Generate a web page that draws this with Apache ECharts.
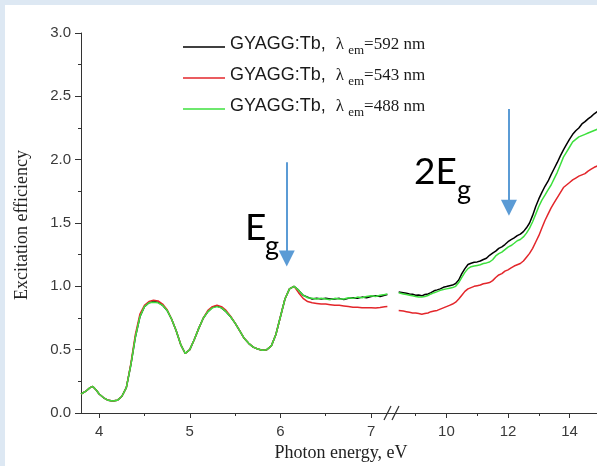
<!DOCTYPE html>
<html>
<head>
<meta charset="utf-8">
<script src="https://cdn.jsdelivr.net/npm/echarts@6/dist/echarts.min.js"></script>
<style>
html, body { margin: 0; padding: 0; }
#chart { width: 597px; height: 466px; }
</style>
</head>
<body>
<div id="chart"></div>
<script>
// left piece of the broken energy axis, eV
const energyLeft = [3.8, 3.85, 3.9, 3.93, 3.97,
  4.0, 4.05, 4.1, 4.15, 4.2, 4.25, 4.3, 4.35, 4.4, 4.45, 4.5, 4.55, 4.6, 4.65, 4.7, 4.75, 4.8, 4.85, 4.9, 4.95,
  5.0, 5.05, 5.1, 5.15, 5.2, 5.25, 5.3, 5.35, 5.4, 5.45, 5.5, 5.55, 5.6, 5.65, 5.7, 5.75, 5.8, 5.85, 5.9, 5.95,
  6.0, 6.05, 6.1, 6.15, 6.2, 6.25, 6.3, 6.35, 6.4, 6.45, 6.5, 6.55, 6.6, 6.65, 6.7, 6.75, 6.8, 6.85, 6.9, 6.95,
  7.0, 7.05, 7.1, 7.15, 7.18];
const black592Left = [0.15, 0.17, 0.2, 0.21, 0.18,
  0.15, 0.12, 0.10, 0.095, 0.10, 0.13, 0.2, 0.38, 0.6, 0.76, 0.84, 0.87, 0.88, 0.875, 0.85, 0.81, 0.74, 0.65, 0.54, 0.47,
  0.5, 0.58, 0.67, 0.75, 0.8, 0.835, 0.845, 0.83, 0.8, 0.76, 0.71, 0.65, 0.59, 0.55, 0.52, 0.505, 0.495, 0.5, 0.53, 0.62,
  0.76, 0.9, 0.98, 1.0, 0.97, 0.93, 0.915, 0.9, 0.905, 0.9, 0.905, 0.9, 0.9, 0.905, 0.895, 0.905, 0.91, 0.905, 0.915, 0.91,
  0.92, 0.925, 0.92, 0.93, 0.935];
const red543Left = [0.15, 0.17, 0.2, 0.21, 0.18,
  0.15, 0.12, 0.10, 0.095, 0.10, 0.13, 0.2, 0.39, 0.62, 0.78, 0.85, 0.88, 0.89, 0.885, 0.86, 0.815, 0.74, 0.65, 0.54, 0.47,
  0.5, 0.58, 0.67, 0.75, 0.81, 0.84, 0.85, 0.84, 0.81, 0.765, 0.71, 0.65, 0.59, 0.55, 0.52, 0.505, 0.495, 0.5, 0.53, 0.62,
  0.76, 0.9, 0.98, 1.0, 0.95, 0.905, 0.88, 0.87, 0.865, 0.86, 0.86, 0.855, 0.85, 0.85, 0.845, 0.84, 0.835, 0.835, 0.83, 0.83,
  0.83, 0.828, 0.832, 0.838, 0.84];
const green488Left = [0.15, 0.17, 0.2, 0.21, 0.18,
  0.15, 0.12, 0.10, 0.095, 0.10, 0.13, 0.2, 0.38, 0.6, 0.76, 0.84, 0.87, 0.875, 0.87, 0.85, 0.81, 0.74, 0.65, 0.54, 0.47,
  0.5, 0.58, 0.67, 0.75, 0.8, 0.83, 0.84, 0.83, 0.8, 0.76, 0.71, 0.65, 0.59, 0.55, 0.52, 0.505, 0.495, 0.5, 0.53, 0.62,
  0.76, 0.9, 0.98, 1.0, 0.97, 0.93, 0.91, 0.905, 0.9, 0.905, 0.9, 0.895, 0.905, 0.9, 0.9, 0.91, 0.905, 0.915, 0.91, 0.92,
  0.925, 0.92, 0.93, 0.935, 0.94];

// right piece of the broken axis, eV
const energyRight = [8.45, 8.5, 8.6, 8.7, 8.8, 8.9,
  9.0, 9.1, 9.2, 9.3, 9.4, 9.5, 9.6, 9.7, 9.8, 9.9,
  10.0, 10.1, 10.2, 10.3, 10.4, 10.5, 10.6, 10.7, 10.8, 10.9,
  11.0, 11.1, 11.2, 11.3, 11.4, 11.5, 11.6, 11.7, 11.8, 11.9,
  12.0, 12.1, 12.2, 12.3, 12.4, 12.5, 12.6, 12.7, 12.8, 12.9,
  13.0, 13.1, 13.2, 13.3, 13.4, 13.5, 13.6, 13.7, 13.8, 13.9,
  14.0, 14.1, 14.2, 14.3, 14.4, 14.5, 14.6, 14.7, 14.8, 14.9];
const black592Right = [0.955, 0.955, 0.95, 0.945, 0.94, 0.938,
  0.93, 0.932, 0.925, 0.935, 0.94, 0.95, 0.965, 0.972, 0.98, 0.992,
  0.998, 1.005, 1.01, 1.022, 1.05, 1.1, 1.14, 1.172, 1.182, 1.19,
  1.193, 1.2, 1.212, 1.222, 1.245, 1.262, 1.278, 1.3, 1.312, 1.33,
  1.352, 1.368, 1.382, 1.4, 1.412, 1.432, 1.462, 1.5, 1.56, 1.63,
  1.69, 1.742, 1.79, 1.83, 1.882, 1.93, 1.978, 2.03, 2.078, 2.12,
  2.162, 2.2, 2.228, 2.25, 2.282, 2.3, 2.322, 2.34, 2.362, 2.38];
const red543Right = [0.81, 0.808, 0.805, 0.8, 0.795, 0.79,
  0.79, 0.785, 0.78, 0.785, 0.79, 0.8, 0.805, 0.81, 0.82, 0.83,
  0.84, 0.85, 0.86, 0.875, 0.9, 0.93, 0.96, 0.98, 0.99, 1.0,
  1.005, 1.01, 1.02, 1.025, 1.03, 1.045, 1.07, 1.09, 1.1, 1.12,
  1.13, 1.145, 1.16, 1.17, 1.18, 1.2, 1.23, 1.26, 1.3, 1.35,
  1.4, 1.46, 1.52, 1.57, 1.62, 1.66, 1.7, 1.74, 1.78, 1.8,
  1.82, 1.84, 1.855, 1.87, 1.88, 1.89, 1.91, 1.925, 1.94, 1.95];
const green488Right = [0.95, 0.948, 0.94, 0.935, 0.93, 0.925,
  0.92, 0.915, 0.915, 0.92, 0.928, 0.94, 0.95, 0.958, 0.968, 0.975,
  0.98, 0.985, 0.99, 1.0, 1.03, 1.07, 1.11, 1.14, 1.155, 1.16,
  1.165, 1.17, 1.18, 1.185, 1.192, 1.21, 1.24, 1.258, 1.27, 1.29,
  1.31, 1.322, 1.34, 1.36, 1.37, 1.39, 1.42, 1.46, 1.51, 1.57,
  1.63, 1.68, 1.72, 1.762, 1.8, 1.85, 1.9, 1.96, 2.02, 2.06,
  2.1, 2.14, 2.16, 2.18, 2.19, 2.2, 2.21, 2.22, 2.23, 2.24];

const seriesNames = ['GYAGG:Tb, λem=592 nm', 'GYAGG:Tb, λem=543 nm', 'GYAGG:Tb, λem=488 nm'];
const seriesColors = ['#000000', '#e3262b', '#3ee03e'];
const xTicksLeft = [4, 5, 6, 7];
const xMinorLeft = [4.5, 5.5, 6.5];
const xTicksRight = [10, 12, 14];
const xMinorRight = [9, 11, 13];
// arrows: [energy, from, to]
const arrowEg = [6.07, 1.98, 1.22];
const arrow2Eg = [12.03, 2.40, 1.62];

const chart = echarts.init(document.getElementById('chart'));

const axisColor = '#333';
const tickFont = { fontFamily: 'Liberation Sans', fontSize: 15, color: '#3a3a3a' };
const serif = 'Liberation Serif';

function pairs(xs, ys) {
  return xs.map((x, i) => [x, ys[i]]);
}

const gridLeft = { left: 81, top: 33, bottom: 53, width: 310 };
const gridRight = { left: 391, top: 33, bottom: 53, right: 0 };

function xMajor(grid, min, max, ticks) {
  return {
    type: 'value', gridIndex: grid, min: min, max: max,
    axisLine: { show: true, lineStyle: { color: axisColor, width: 1 } },
    axisTick: { show: true, customValues: ticks, length: 5, lineStyle: { color: axisColor } },
    axisLabel: Object.assign({ customValues: ticks, margin: 11 }, tickFont),
    splitLine: { show: false }
  };
}
function xMinor(grid, min, max, ticks) {
  return {
    type: 'value', gridIndex: grid, min: min, max: max,
    axisLine: { show: false },
    axisTick: { show: true, customValues: ticks, length: 3, lineStyle: { color: axisColor } },
    axisLabel: { show: false },
    splitLine: { show: false }
  };
}
function yHidden(grid) {
  return { type: 'value', gridIndex: grid, min: 0, max: 3, show: false };
}

function arrowLine(a) {
  return {
    silent: true,
    symbol: ['none', 'triangle'],
    symbolSize: 16,
    label: { show: false },
    lineStyle: { color: '#5b9bd5', width: 2, type: 'solid' },
    itemStyle: { color: '#5b9bd5' },
    data: [[{ coord: [a[0], a[1]] }, { coord: [a[0], a[2]] }]]
  };
}

const leftData = [black592Left, red543Left, green488Left];
const rightData = [black592Right, red543Right, green488Right];
const series = [];
seriesNames.forEach((name, i) => {
  series.push({
    name: name, type: 'line', xAxisIndex: 0, yAxisIndex: 0,
    data: pairs(energyLeft, leftData[i]),
    symbol: 'none', showSymbol: false,
    lineStyle: { color: seriesColors[i], width: 1.5 },
    itemStyle: { color: seriesColors[i] },
    markLine: i === 2 ? arrowLine(arrowEg) : undefined
  });
  series.push({
    name: name, type: 'line', xAxisIndex: 1, yAxisIndex: 1,
    data: pairs(energyRight, rightData[i]),
    symbol: 'none', showSymbol: false,
    lineStyle: { color: seriesColors[i], width: 1.5 },
    itemStyle: { color: seriesColors[i] },
    markLine: i === 2 ? arrowLine(arrow2Eg) : undefined
  });
});

const option = {
  animation: false,
  backgroundColor: '#dde8f3',
  grid: [gridLeft, gridRight, gridLeft, gridRight],
  xAxis: [
    xMajor(0, 3.8, 7.22, xTicksLeft),
    xMajor(1, 8.2, 14.89, xTicksRight),
    xMinor(2, 3.8, 7.22, xMinorLeft),
    xMinor(3, 8.2, 14.89, xMinorRight)
  ],
  yAxis: [
    {
      type: 'value', gridIndex: 0, min: 0, max: 3, interval: 0.5,
      axisLine: { show: true, lineStyle: { color: axisColor, width: 1 } },
      axisTick: { show: true, length: 6, lineStyle: { color: axisColor } },
      minorTick: { show: true, splitNumber: 2, length: 3, lineStyle: { color: axisColor } },
      axisLabel: Object.assign({ margin: 10, formatter: v => v.toFixed(1) }, tickFont),
      splitLine: { show: false }
    },
    yHidden(1), yHidden(2), yHidden(3)
  ],
  legend: {
    data: seriesNames,
    orient: 'vertical',
    left: 183, top: 35,
    padding: 0,
    icon: 'rect',
    itemWidth: 42, itemHeight: 1.5, itemGap: 9,
    selectedMode: false,
    formatter: name => {
      const nm = name.split('=')[1];
      return '{a|GYAGG:Tb,}{l|λ}{s| em}{t|=' + nm + '}';
    },
    textStyle: {
      rich: {
        a: { fontFamily: 'Liberation Sans', fontSize: 18, color: '#1a1a1a', lineHeight: 20, padding: [0, 0, 4, 0], verticalAlign: 'bottom' },
        l: { fontFamily: serif, fontSize: 17, color: '#1a1a1a', lineHeight: 20, padding: [0, 0, 4, 10], verticalAlign: 'bottom' },
        s: { fontFamily: serif, fontSize: 13, color: '#1a1a1a', lineHeight: 12, padding: [0, 0, 0, 1], verticalAlign: 'bottom' },
        t: { fontFamily: serif, fontSize: 17, color: '#1a1a1a', lineHeight: 20, padding: [0, 0, 4, 0], verticalAlign: 'bottom' }
      }
    }
  },
  graphic: [
    { type: 'rect', z: -10, shape: { x: 5, y: 5, width: 600, height: 470 }, style: { fill: '#ffffff' } },
    // axis break marks
    { type: 'line', z: 50, shape: { x1: 384, y1: 420, x2: 391, y2: 406 }, style: { stroke: axisColor, lineWidth: 1.3 } },
    { type: 'line', z: 50, shape: { x1: 392, y1: 420, x2: 399, y2: 406 }, style: { stroke: axisColor, lineWidth: 1.3 } },
    { type: 'text', z: 50, x: 22, y: 225, rotation: Math.PI / 2,
      style: { text: 'Excitation efficiency', font: '18px "Liberation Serif"', fill: '#222', align: 'center', verticalAlign: 'middle' } },
    { type: 'text', z: 50, x: 341, y: 453,
      style: { text: 'Photon energy, eV', font: '18px "Liberation Serif"', fill: '#222', align: 'center', verticalAlign: 'middle' } },
    { type: 'text', z: 50, x: 245, y: 228,
      style: { text: 'E', font: '37px Lato', fill: '#000', align: 'left', verticalAlign: 'middle' } },
    { type: 'text', z: 50, x: 265, y: 246,
      style: { text: 'g', font: '27px Lato', fill: '#000', align: 'left', verticalAlign: 'middle' } },
    { type: 'text', z: 50, x: 414, y: 172,
      style: { text: '2E', font: '37px Lato', fill: '#000', align: 'left', verticalAlign: 'middle' } },
    { type: 'text', z: 50, x: 457, y: 190,
      style: { text: 'g', font: '27px Lato', fill: '#000', align: 'left', verticalAlign: 'middle' } }
  ],
  series: series
};

chart.setOption(option);
</script>
</body>
</html>
